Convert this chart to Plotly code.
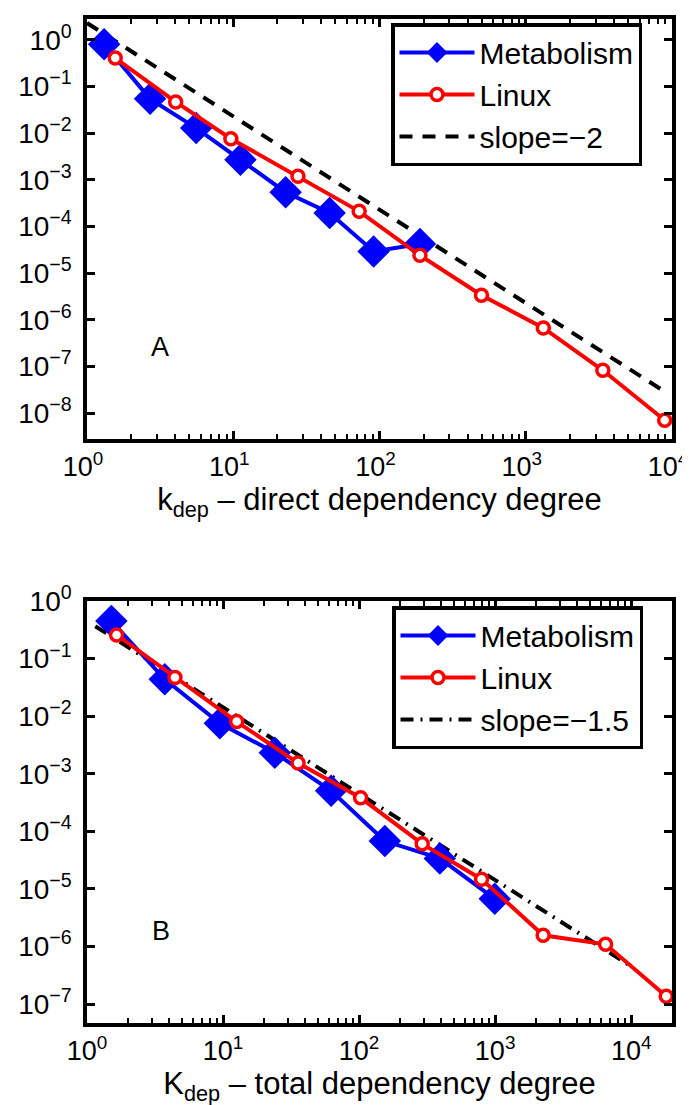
import plotly.graph_objects as go

# ---------------- data ----------------
# Panel A: direct dependency degree
a_metab_x = [1.31, 2.70, 5.58, 11.2, 22.8, 45.6, 91.2, 189]
a_metab_y = [0.80, 0.054, 0.0128, 0.00268, 5.4e-4, 1.94e-4, 2.9e-5, 4.2e-5]
a_linux_x = [1.56, 4.04, 9.63, 27.7, 72.6, 189, 498, 1319, 3365, 8913]
a_linux_y = [0.405, 0.0463, 0.00757, 1.18e-3, 2.10e-4, 2.40e-5, 3.34e-6, 6.64e-7, 8.24e-8, 6.97e-9]
a_fit_x = [1.0, 9000.0]
a_fit_c = 2.28
a_fit_slope = -2.0

# Panel B: total dependency degree
b_metab_x = [1.51, 3.73, 9.47, 24.0, 62.3, 154.5, 392, 993]
b_metab_y = [0.448, 0.0437, 0.0075, 0.00232, 5.04e-4, 6.76e-5, 3.38e-5, 6.7e-6]
b_linux_x = [1.65, 4.43, 12.6, 35.6, 102.6, 291, 794, 2254, 6486, 18100]
b_linux_y = [0.257, 0.0468, 0.00805, 0.00153, 3.82e-4, 6.05e-5, 1.47e-5, 1.56e-6, 1.09e-6, 1.36e-7]
b_fit_x = [1.15, 10000.0]
b_fit_c = 0.45
b_fit_slope = -1.5

a_yticks = [0, -1, -2, -3, -4, -5, -6, -7, -8]
b_yticks = [0, -1, -2, -3, -4, -5, -6, -7]
x_ticks = [0, 1, 2, 3, 4]

a_xtitle = "k<sub>dep</sub> – direct dependency degree"
b_xtitle = "K<sub>dep</sub> – total dependency degree"

# --------------------------------------
W, H = 690, 1105
FONT = "Liberation Sans, Arial, Helvetica, sans-serif"
BLUE = "#0000FF"
RED = "#FF0000"


def pw(e):
    return "10<sup>" + (str(e) if e >= 0 else "\u2212" + str(-e)) + "</sup>"


fig = go.Figure()


def add_panel(xref, yref, legend, mx, my, lx, ly, fx, fc, fs, dash, fitname):
    fy = [fc * (v ** fs) for v in fx]
    fig.add_trace(go.Scatter(
        x=fx, y=fy, name=fitname, mode="lines", legendrank=3,
        line=dict(color="black", width=4, dash=dash),
        xaxis=xref, yaxis=yref, legend=legend))
    fig.add_trace(go.Scatter(
        x=mx, y=my, name="Metabolism", mode="lines+markers", legendrank=1,
        line=dict(color=BLUE, width=4),
        marker=dict(symbol="diamond", size=25, color=BLUE),
        xaxis=xref, yaxis=yref, legend=legend))
    fig.add_trace(go.Scatter(
        x=lx, y=ly, name="Linux", mode="lines+markers", legendrank=2,
        line=dict(color=RED, width=4),
        marker=dict(symbol="circle", size=12, color="white",
                    line=dict(color=RED, width=3.5)),
        xaxis=xref, yaxis=yref, legend=legend))


add_panel("x", "y", "legend", a_metab_x, a_metab_y, a_linux_x, a_linux_y,
          a_fit_x, a_fit_c, a_fit_slope, "13px,10px", "slope=\u22122")
add_panel("x2", "y2", "legend2", b_metab_x, b_metab_y, b_linux_x, b_linux_y,
          b_fit_x, b_fit_c, b_fit_slope, "13px,7px,2px,7px", "slope=\u22121.5")

xd = [79 / W, 664 / W]
axis_common = dict(
    type="log", showgrid=False, zeroline=False, automargin=False,
    showline=True, linecolor="black", linewidth=3.5, mirror="ticks",
    ticks="inside", ticklen=8, tickwidth=3, tickcolor="black",
)
xfont = dict(family=FONT, size=27, color="black")
yfont = dict(family=FONT, size=28, color="black")
minor_x = dict(ticks="inside", ticklen=5, tickwidth=2, tickcolor="black", dtick="D1")
legend_common = dict(
    xanchor="left", yanchor="top",
    bordercolor="black", borderwidth=3.5, bgcolor="white",
    font=dict(family=FONT, size=30, color="black"),
    itemwidth=75, traceorder="normal",
)

fig.update_layout(
    template="none",
    width=W, height=H,
    margin=dict(l=0, r=0, t=0, b=0),
    paper_bgcolor="white", plot_bgcolor="white",
    font=dict(family=FONT, color="black"),
    xaxis=dict(**axis_common, domain=xd, anchor="y", range=[0, 4], tickfont=xfont,
               tickvals=[10 ** e for e in x_ticks], ticktext=[pw(e) for e in x_ticks],
               ticklabelstandoff=1, ticklabelshift=-4, ticklabeloverflow="allow",
               minor=minor_x,
               title=dict(text=a_xtitle, font=dict(family=FONT, size=31), standoff=0)),
    yaxis=dict(**axis_common, domain=[1 - 431 / H, 1 - 11 / H], anchor="x",
               range=[-8.557, 0.444], ticklabelstandoff=6, tickfont=yfont,
               tickvals=[10 ** e for e in a_yticks], ticktext=[pw(e) for e in a_yticks]),
    xaxis2=dict(**axis_common, domain=xd, anchor="y2", range=[0, 4.30], tickfont=xfont,
                tickvals=[10 ** e for e in x_ticks], ticktext=[pw(e) for e in x_ticks],
                ticklabelstandoff=1, minor=minor_x,
                title=dict(text=b_xtitle, font=dict(family=FONT, size=31), standoff=0)),
    yaxis2=dict(**axis_common, domain=[1 - 1015 / H, 1 - 593 / H], anchor="x2",
                range=[-7.33, 0], ticklabelstandoff=6, tickfont=yfont,
                tickvals=[10 ** e for e in b_yticks], ticktext=[pw(e) for e in b_yticks]),
    legend=dict(**legend_common, x=383 / W, y=1 - 15 / H),
    legend2=dict(**legend_common, x=384 / W, y=1 - 598 / H),
    annotations=[
        dict(text="A", x=0.4986, y=-6.59, xref="x", yref="y", showarrow=False,
             font=dict(family=FONT, size=27, color="black")),
        dict(text="B", x=0.546, y=-5.736, xref="x2", yref="y2", showarrow=False,
             font=dict(family=FONT, size=27, color="black")),
    ],
)

fig.write_html("out.html")
